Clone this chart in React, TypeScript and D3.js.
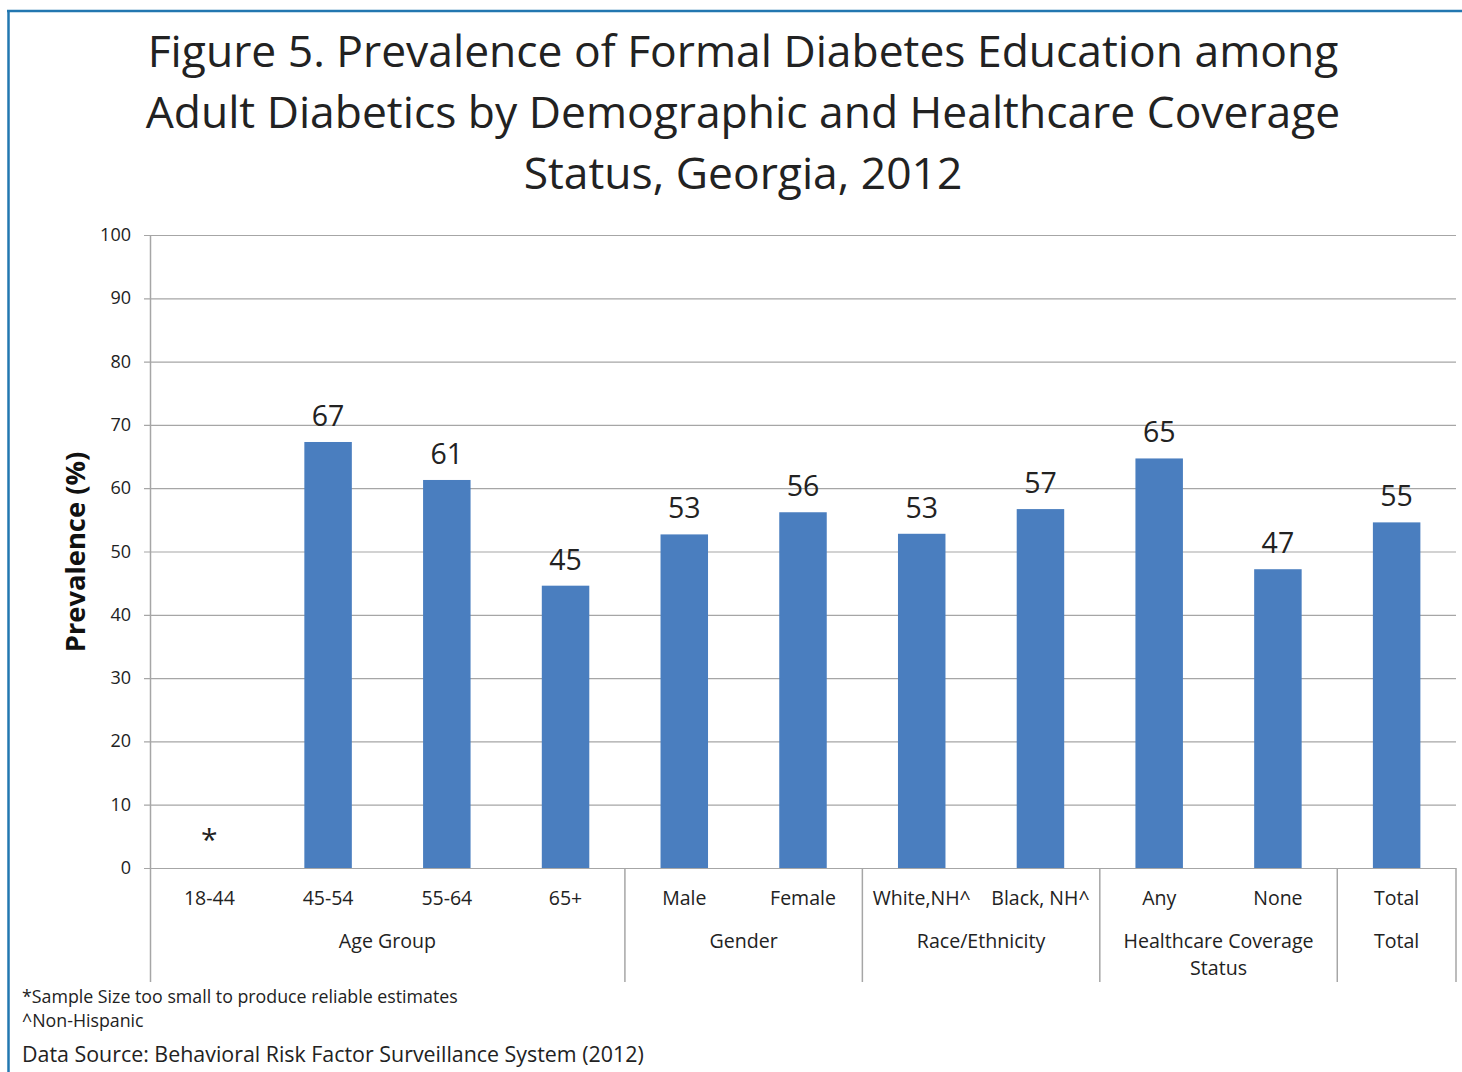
import React from "react";
import * as d3 from "d3";

// Chart data
const categories = ["18-44", "45-54", "55-64", "65+", "Male", "Female", "White,NH^", "Black, NH^", "Any", "None", "Total"];
const prevalence: (number | null)[] = [null, 67.3, 61.3, 44.6, 52.7, 56.2, 52.8, 56.7, 64.7, 47.2, 54.6];
const groupNames = [["Age Group"], ["Gender"], ["Race/Ethnicity"], ["Healthcare Coverage", "Status"], ["Total"]];
const groupSizes = [4, 2, 2, 2, 1];
const yTicks = [0, 10, 20, 30, 40, 50, 60, 70, 80, 90, 100];
const titleLines = [
  "Figure 5. Prevalence of Formal Diabetes Education among",
  "Adult Diabetics by Demographic and Healthcare Coverage",
  "Status, Georgia, 2012",
];
const footnotes = ["*Sample Size too small to produce reliable estimates", "^Non-Hispanic"];
const sourceNote = "Data Source: Behavioral Risk Factor Surveillance System (2012)";

const W = 1462;
const H = 1072;
const plot = { left: 150, right: 1456, top: 235, bottom: 868 };
const FONT = "'Open Sans', 'Noto Sans', sans-serif";
const TEXT = "#222";
const GRID = "#a6a6a6";
const BAR = "#4a7ebf";

export default function App() {
  const x = d3.scaleBand<string>().domain(categories).range([plot.left, plot.right]).paddingInner(0.6).paddingOuter(0.3);
  const step = x.step();
  const y = d3.scaleLinear().domain([0, 100]).range([plot.bottom, plot.top]);

  // group boundaries (category index where each group starts)
  const starts = d3.cumsum([0, ...groupSizes]);
  const boundaryX = (i: number) => plot.left + starts[i] * step;

  return (
    <svg width={W} height={H} style={{ position: "absolute", left: 0, top: 0, background: "#fff" }} fontFamily={FONT}>
      <rect x={0} y={0} width={W} height={H} fill="#fff" />
      {/* frame */}
      <line x1={7} x2={W} y1={11} y2={11} stroke="#2277b0" strokeWidth={2.5} />
      <line x1={8.5} x2={8.5} y1={10} y2={H} stroke="#2277b0" strokeWidth={2.5} />

      {/* title */}
      {titleLines.map((t, i) => (
        <text key={t} x={743} y={67 + i * 61} textAnchor="middle" fontSize={44.4} fill={TEXT}>
          {t}
        </text>
      ))}

      {/* gridlines and y ticks */}
      {yTicks.map((v) => (
        <g key={v}>
          <line x1={plot.left - 6} x2={plot.right} y1={y(v) + 0.5} y2={y(v) + 0.5} stroke={GRID} strokeWidth={1.2} />
          <text x={131} y={y(v) + 6} textAnchor="end" fontSize={18} fill={TEXT}>
            {v}
          </text>
        </g>
      ))}

      {/* y axis */}
      <line x1={plot.left + 0.5} x2={plot.left + 0.5} y1={plot.top} y2={982} stroke={GRID} strokeWidth={1.5} />

      <text
        transform={`translate(85, ${552}) rotate(-90)`}
        textAnchor="middle"
        fontSize={27.3}
        fontWeight="bold"
        fill="#111"
      >
        Prevalence (%)
      </text>

      {/* bars */}
      {categories.map((c, i) => {
        const v = prevalence[i];
        const cx = x(c)! + x.bandwidth() / 2;
        if (v == null) {
          return (
            <text key={c} x={cx} y={y(0) - 18} textAnchor="middle" fontSize={30} fill={TEXT}>
              *
            </text>
          );
        }
        return (
          <g key={c}>
            <rect x={x(c)} y={y(v)} width={x.bandwidth()} height={y(0) - y(v)} fill={BAR} />
            <text x={cx} y={y(v) - 16} textAnchor="middle" fontSize={28.5} fill={TEXT}>
              {d3.format(".0f")(v)}
            </text>
          </g>
        );
      })}

      {/* category labels */}
      {categories.map((c) => (
        <text key={c} x={x(c)! + x.bandwidth() / 2} y={905} textAnchor="middle" fontSize={19.5} fill={TEXT}>
          {c}
        </text>
      ))}

      {/* group separators and labels */}
      {groupSizes.map((_, gi) => (
        <line
          key={`sep${gi}`}
          x1={boundaryX(gi + 1)}
          x2={boundaryX(gi + 1)}
          y1={plot.bottom}
          y2={982}
          stroke={GRID}
          strokeWidth={1.5}
        />
      ))}
      {groupNames.map((lines, gi) => {
        const cx = (boundaryX(gi) + boundaryX(gi + 1)) / 2;
        return lines.map((l, li) => (
          <text key={`${gi}-${li}`} x={cx} y={948 + li * 27} textAnchor="middle" fontSize={19.6} fill={TEXT}>
            {l}
          </text>
        ));
      })}

      {/* notes */}
      {footnotes.map((f, i) => (
        <text key={f} x={22} y={1003 + i * 24} fontSize={17.8} fill={TEXT}>
          {f}
        </text>
      ))}
      <text x={22} y={1062} fontSize={21.4} fill={TEXT}>
        {sourceNote}
      </text>
    </svg>
  );
}
